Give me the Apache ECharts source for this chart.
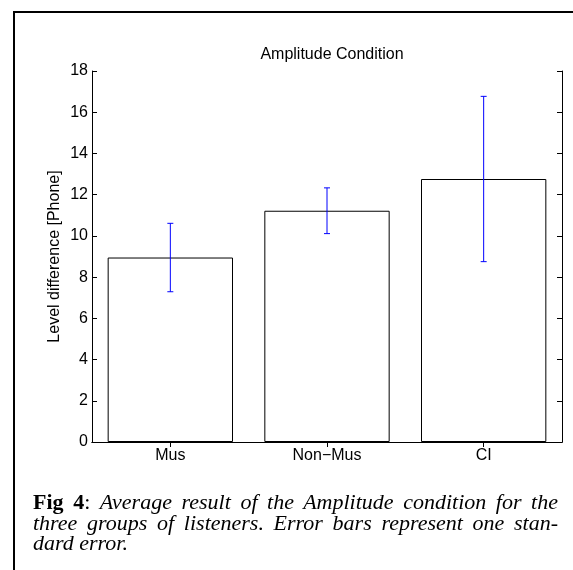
<!DOCTYPE html>
<html>
<head>
<meta charset="utf-8">
<script src="https://cdn.jsdelivr.net/npm/echarts@6/dist/echarts.min.js"></script>
<style>
  html, body { margin: 0; padding: 0; background: #fff; }
  #wrap { position: relative; width: 573px; height: 570px; overflow: hidden; }
  #chart { position: absolute; left: 0; top: 0; width: 573px; height: 570px; }
  #caption {
    position: absolute; left: 33px; top: 492px; width: 525px;
    font-family: "Liberation Serif", "DejaVu Serif", serif;
    font-size: 22px; line-height: 20.5px; color: #000;
  }
  #caption .ln { text-align: justify; text-align-last: justify; white-space: nowrap; }
  #caption .last { text-align: left; text-align-last: left; }
  #caption i { font-style: italic; }
</style>
</head>
<body>
<div id="wrap">
  <div id="chart"></div>
  <div id="caption">
    <div class="ln"><b>Fig 4</b>: <i>Average result of the Amplitude condition for the</i></div>
    <div class="ln"><i>three groups of listeners. Error bars represent one stan-</i></div>
    <div class="ln last"><i>dard error.</i></div>
  </div>
</div>
<script>
// groups of listeners
const groups = ['Mus', 'Non\u2212Mus', 'CI']
// mean level difference [Phone]
const means = [8.95, 11.22, 12.76]
// one standard error
const stdErr = [1.66, 1.11, 4.01]
const yTicks = { min: 0, max: 18, interval: 2 }

const chart = echarts.init(document.getElementById('chart'), null, { renderer: 'canvas' })

const font = 'Liberation Sans, Arial, Helvetica, sans-serif'
const errData = means.map((m, i) => [i, m - stdErr[i], m + stdErr[i]])

// draws one error bar: vertical line plus two caps
function renderErr(params, api) {
  const lo = api.coord([api.value(0), api.value(1)])
  const hi = api.coord([api.value(0), api.value(2)])
  const cap = 3
  const style = { stroke: '#0000ff', lineWidth: 1 }
  return {
    type: 'group',
    children: [
      { type: 'line', shape: { x1: lo[0], y1: lo[1], x2: hi[0], y2: hi[1] }, style },
      { type: 'line', shape: { x1: hi[0] - cap, y1: hi[1], x2: hi[0] + cap, y2: hi[1] }, style },
      { type: 'line', shape: { x1: lo[0] - cap, y1: lo[1], x2: lo[0] + cap, y2: lo[1] }, style },
    ]
  }
}

const axisLine = { show: true, lineStyle: { color: '#000', width: 1 } }

chart.setOption({
  animation: false,
  backgroundColor: '#fff',
  title: {
    text: 'Amplitude Condition',
    left: 327,
    top: 42,
    textAlign: 'center',
    textStyle: { fontFamily: font, fontSize: 16, fontWeight: 'normal', color: '#000' }
  },
  graphic: [
    {
      type: 'rect',
      shape: { x: 14, y: 12, width: 700, height: 700 },
      style: { fill: 'none', stroke: '#000', lineWidth: 2 },
      silent: true
    }
  ],
  grid: { left: 92, top: 71, width: 470, height: 371 },
  xAxis: [
    {
      type: 'category',
      data: groups,
      boundaryGap: true,
      axisLine,
      axisTick: { show: false },
      axisLabel: { color: '#000', fontFamily: font, fontSize: 16, margin: 6 },
      splitLine: { show: false }
    },
    {
      type: 'category',
      data: groups,
      position: 'top',
      boundaryGap: true,
      axisLine,
      axisTick: { show: true, inside: true, length: 5, alignWithLabel: true, lineStyle: { color: '#000' } },
      axisLabel: { show: false },
      splitLine: { show: false }
    }
  ],
  yAxis: [
    {
      type: 'value',
      min: yTicks.min,
      max: yTicks.max,
      interval: yTicks.interval,
      name: 'Level difference [Phone]',
      nameLocation: 'middle',
      nameGap: 29,
      nameMoveOverlap: false,
      nameTextStyle: { color: '#000', fontFamily: font, fontSize: 16 },
      axisLine,
      axisTick: { show: true, inside: true, length: 5, lineStyle: { color: '#000' } },
      axisLabel: { color: '#000', fontFamily: font, fontSize: 16, margin: 4 },
      splitLine: { show: false }
    },
    {
      type: 'value',
      position: 'right',
      min: yTicks.min,
      max: yTicks.max,
      interval: yTicks.interval,
      axisLine,
      axisTick: { show: true, inside: true, length: 5, lineStyle: { color: '#000' } },
      axisLabel: { show: false },
      splitLine: { show: false }
    }
  ],
  series: [
    {
      type: 'bar',
      data: means,
      barWidth: '80%',
      itemStyle: { color: '#fff', borderColor: '#000', borderWidth: 1 },
      silent: true
    },
    {
      type: 'custom',
      data: errData,
      renderItem: renderErr,
      z: 5,
      silent: true
    }
  ]
})
</script>
</body>
</html>
